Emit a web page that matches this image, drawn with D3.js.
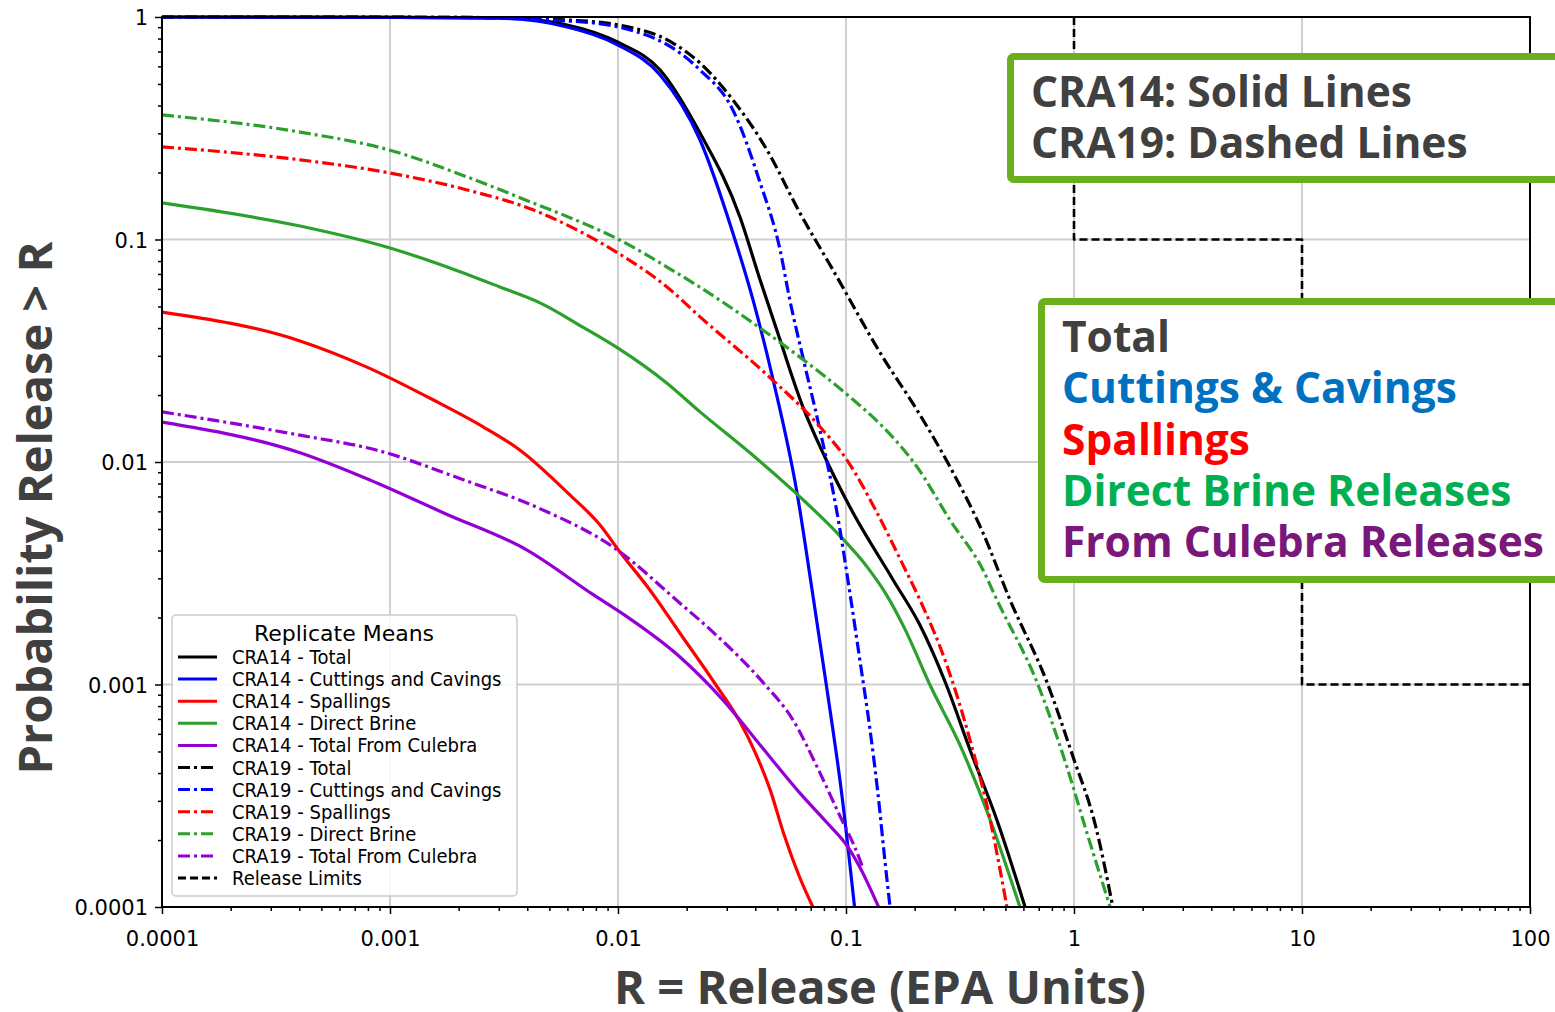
<!DOCTYPE html>
<html>
<head>
<meta charset="utf-8">
<script src="https://cdn.jsdelivr.net/npm/d3@7"></script>
<style>
  body { margin: 0; background: #fff; }
  svg { display: block; }
</style>
</head>
<body>
<script>
// CCDF of releases, CRA14 vs CRA19 replicate means
// each series is [R, P(release > R)]

var cra14Total = [[0.0001, 1], [0.0011, 0.997], [0.00303, 0.992], [0.00597, 0.921], [0.01, 0.77], [0.0153, 0.578],
  [0.0229, 0.301], [0.0343, 0.126], [0.042, 0.0658], [0.0514, 0.0353], [0.0647, 0.0177], [0.0792, 0.011],
  [0.104, 0.00628], [0.161, 0.00295], [0.211, 0.00185], [0.275, 0.001], [0.35, 0.000508], [0.459, 0.000246],
  [0.61, 0.0001]];
var cra14Cuttings = [[0.0001, 1], [0.0011, 0.996], [0.00303, 0.987], [0.00597, 0.902], [0.01, 0.748], [0.0153, 0.549],
  [0.0229, 0.28], [0.0319, 0.107], [0.0391, 0.0535], [0.0479, 0.0234], [0.061, 0.00726], [0.071, 0.00266],
  [0.0826, 0.000944], [0.0959, 0.000319], [0.109, 0.0001]];
var cra14Spallings = [[0.0001, 0.0472], [0.000403, 0.035], [0.000792, 0.0267], [0.00155, 0.019], [0.00256, 0.0144],
  [0.00372, 0.0113], [0.00615, 0.00711], [0.00834, 0.00521], [0.0102, 0.00394], [0.0138, 0.00266], [0.0187, 0.0017],
  [0.0268, 0.001], [0.0343, 0.000678], [0.0399, 0.000497], [0.0465, 0.000336], [0.0535, 0.000211], [0.0628, 0.000135],
  [0.0716, 0.0001]];
var cra14Brine = [[0.0001, 0.146], [0.000403, 0.115], [0.001, 0.0916], [0.00183, 0.0745], [0.00303, 0.0612],
  [0.00455, 0.0519], [0.00701, 0.0404], [0.01, 0.0325], [0.0164, 0.0226], [0.0229, 0.0168], [0.0379, 0.011],
  [0.0628, 0.00697], [0.0914, 0.0048], [0.124, 0.00337], [0.148, 0.0026], [0.182, 0.00176], [0.233, 0.001],
  [0.316, 0.000535], [0.429, 0.000246], [0.579, 0.0001]];
var cra14Culebra = [[0.0001, 0.0151], [0.000403, 0.011], [0.000816, 0.0083], [0.00176, 0.00584], [0.00399, 0.00402],
  [0.00785, 0.00252], [0.0107, 0.00205], [0.0187, 0.00133], [0.0289, 0.000851], [0.042, 0.000535], [0.0628, 0.000325],
  [0.0826, 0.000239], [0.102, 0.000186], [0.115, 0.000151], [0.139, 0.0001]];

var cra19Total = [[0.0001, 1], [0.00183, 0.997], [0.00597, 0.969], [0.01, 0.921], [0.0174, 0.764], [0.0229, 0.621],
  [0.0319, 0.424], [0.0451, 0.252], [0.0628, 0.1316], [0.0877, 0.0729], [0.145, 0.0296], [0.205, 0.0171],
  [0.286, 0.0095], [0.399, 0.0048], [0.524, 0.0024], [0.762, 0.00102], [0.991, 0.000472], [1.24, 0.000234],
  [1.48, 0.0001]];
var cra19Cuttings = [[0.0001, 1], [0.00183, 0.996], [0.00597, 0.96], [0.01, 0.902], [0.0187, 0.689], [0.0229, 0.578],
  [0.0319, 0.382], [0.042, 0.18], [0.0514, 0.0897], [0.0567, 0.0535], [0.0647, 0.0296], [0.0769, 0.0139],
  [0.0914, 0.0059], [0.104, 0.00258], [0.115, 0.00129], [0.127, 0.000644], [0.138, 0.000325], [0.148, 0.000163],
  [0.156, 0.0001]];
var cra19Spallings = [[0.0001, 0.261], [0.000403, 0.228], [0.001, 0.199], [0.00218, 0.167], [0.00424, 0.136],
  [0.00701, 0.107], [0.01, 0.0869], [0.0164, 0.0612], [0.0229, 0.0449], [0.0451, 0.0246], [0.0769, 0.0144],
  [0.101, 0.0102], [0.137, 0.0059], [0.178, 0.00344], [0.211, 0.0024], [0.277, 0.00122], [0.35, 0.000563],
  [0.429, 0.000246], [0.508, 0.0001]];
var cra19Brine = [[0.0001, 0.363], [0.000403, 0.304], [0.001, 0.252], [0.00218, 0.191], [0.00424, 0.146],
  [0.00701, 0.1186], [0.01, 0.1005], [0.0164, 0.0752], [0.0229, 0.061], [0.042, 0.04], [0.0628, 0.0296],
  [0.104, 0.0196], [0.145, 0.0144], [0.205, 0.0095], [0.286, 0.00548], [0.399, 0.00327], [0.459, 0.0024],
  [0.689, 0.00102], [0.931, 0.000426], [1.14, 0.000215], [1.44, 0.0001]];
var cra19Culebra = [[0.0001, 0.0168], [0.000403, 0.0132], [0.000877, 0.0113], [0.00211, 0.0083], [0.00437, 0.00628],
  [0.0098, 0.00406], [0.0187, 0.00232], [0.0261, 0.00172], [0.0433, 0.00102], [0.0586, 0.000692], [0.0747, 0.000426],
  [0.0914, 0.000273], [0.115, 0.000163], [0.119, 0.000148]];

var releaseLimits = [[1, 1], [1, 0.1], [10, 0.1], [10, 0.001], [100, 0.001]];

var xTickValues = [0.0001, 0.001, 0.01, 0.1, 1, 10, 100];
var xTickLabels = ["0.0001", "0.001", "0.01", "0.1", "1", "10", "100"];
var yTickValues = [0.0001, 0.001, 0.01, 0.1, 1];
var yTickLabels = ["0.0001", "0.001", "0.01", "0.1", "1"];

var noteLines = ["CRA14: Solid Lines", "CRA19: Dashed Lines"];
var componentNames = ["Total", "Cuttings & Cavings", "Spallings", "Direct Brine Releases", "From Culebra Releases"];
var componentColors = ["#404040", "#0070c0", "#ff0000", "#00b050", "#7a177a"];

var dashDot = "12,4,3,4";
var series = [
  {name: "CRA14 - Total", data: cra14Total, color: "#000000", dash: null},
  {name: "CRA14 - Cuttings and Cavings", data: cra14Cuttings, color: "#0000ff", dash: null},
  {name: "CRA14 - Spallings", data: cra14Spallings, color: "#ff0000", dash: null},
  {name: "CRA14 - Direct Brine", data: cra14Brine, color: "#2ca02c", dash: null},
  {name: "CRA14 - Total From Culebra", data: cra14Culebra, color: "#9400d3", dash: null},
  {name: "CRA19 - Total", data: cra19Total, color: "#000000", dash: dashDot},
  {name: "CRA19 - Cuttings and Cavings", data: cra19Cuttings, color: "#0000ff", dash: dashDot},
  {name: "CRA19 - Spallings", data: cra19Spallings, color: "#ff0000", dash: dashDot},
  {name: "CRA19 - Direct Brine", data: cra19Brine, color: "#2ca02c", dash: dashDot},
  {name: "CRA19 - Total From Culebra", data: cra19Culebra, color: "#9400d3", dash: dashDot},
  {name: "Release Limits", data: releaseLimits, color: "#000000", dash: "8,4", limit: true}
];

var svgWidth = 1555;
var svgHeight = 1012;
var margin = {top: 17, right: 25, bottom: 105, left: 162};
var width = svgWidth - margin.left - margin.right;
var height = svgHeight - margin.top - margin.bottom;

var svg = d3.select("body").append("svg").attr("width", svgWidth).attr("height", svgHeight);
var chartGroup = svg.append("g").attr("transform", `translate(${margin.left}, ${margin.top})`);

var x = d3.scaleLog().domain([0.0001, 100]).range([0, width]);
var y = d3.scaleLog().domain([0.0001, 1]).range([height, 0]);

// grid
chartGroup.append("g").selectAll("line").data(xTickValues).enter().append("line")
  .attr("x1", d => x(d)).attr("x2", d => x(d)).attr("y1", 0).attr("y2", height)
  .attr("stroke", "#cfcfcf").attr("stroke-width", 2);
chartGroup.append("g").selectAll("line").data(yTickValues).enter().append("line")
  .attr("y1", d => y(d)).attr("y2", d => y(d)).attr("x1", 0).attr("x2", width)
  .attr("stroke", "#cfcfcf").attr("stroke-width", 2);

chartGroup.append("clipPath").attr("id", "plotClip").append("rect")
  .attr("x", -2).attr("y", -2).attr("width", width + 4).attr("height", height + 4);

var line = d3.line().x(d => x(d[0])).y(d => y(d[1])).curve(d3.curveMonotoneX);
var stepLine = d3.line().x(d => x(d[0])).y(d => y(d[1]));

var lines = chartGroup.append("g").attr("clip-path", "url(#plotClip)");
series.forEach(function(s) {
  lines.append("path")
    .attr("d", s.limit ? stepLine(s.data) : line(s.data))
    .attr("fill", "none")
    .attr("stroke", s.color)
    .attr("stroke-width", s.limit ? 2.6 : 3.2)
    .attr("stroke-dasharray", s.dash)
    .attr("stroke-linejoin", "round");
});

// minor ticks
var xMinor = [];
var yMinor = [];
for (var e = -4; e < 2; e++) for (var m = 2; m < 10; m++) xMinor.push(m * Math.pow(10, e));
for (var e2 = -4; e2 < 0; e2++) for (var m2 = 2; m2 < 10; m2++) yMinor.push(m2 * Math.pow(10, e2));

chartGroup.append("g").attr("transform", `translate(0, ${height})`)
  .call(d3.axisBottom(x).tickValues(xMinor).tickSize(4).tickFormat(""))
  .call(g => g.select(".domain").remove());
chartGroup.append("g")
  .call(d3.axisLeft(y).tickValues(yMinor).tickSize(4).tickFormat(""))
  .call(g => g.select(".domain").remove());

var bottomAxis = d3.axisBottom(x).tickValues(xTickValues).tickSize(7).tickFormat((d, i) => xTickLabels[i]);
var leftAxis = d3.axisLeft(y).tickValues(yTickValues).tickSize(7).tickFormat((d, i) => yTickLabels[i]);

var xAxisG = chartGroup.append("g").attr("transform", `translate(0, ${height})`).call(bottomAxis);
xAxisG.selectAll("text").attr("y", 39).attr("dy", 0);
var yAxisG = chartGroup.append("g").call(leftAxis);
yAxisG.selectAll("text").attr("x", -14).attr("dy", "0.36em");

chartGroup.selectAll(".tick line").attr("stroke", "#000").attr("stroke-width", 1.5);
chartGroup.selectAll(".tick text").attr("font-family", "DejaVu Sans").attr("font-size", 21).attr("fill", "#000");
chartGroup.selectAll(".domain").remove();

// frame
chartGroup.append("rect").attr("width", width).attr("height", height)
  .attr("fill", "none").attr("stroke", "#000").attr("stroke-width", 2);

// legend
var legend = chartGroup.append("g").attr("transform", "translate(10, 598)");
legend.append("rect").attr("width", 345).attr("height", 281).attr("rx", 4)
  .attr("fill", "#fff").attr("fill-opacity", 0.85).attr("stroke", "#cccccc").attr("stroke-width", 1.5);
legend.append("text").attr("x", 172).attr("y", 26).attr("text-anchor", "middle")
  .attr("font-family", "DejaVu Sans").attr("font-size", 22).attr("fill", "#000").text("Replicate Means");
series.forEach(function(s, i) {
  var yy = 49 + i * 22.1;
  legend.append("line").attr("x1", 6).attr("x2", 45).attr("y1", yy - 7).attr("y2", yy - 7)
    .attr("stroke", s.color).attr("stroke-width", 3).attr("stroke-dasharray", s.dash);
  legend.append("text").attr("transform", `translate(60, ${yy}) scale(0.9, 1)`)
    .attr("font-family", "DejaVu Sans").attr("font-size", 20).attr("fill", "#000").text(s.name);
});

// axis titles
svg.append("text").attr("x", 880).attr("y", 1004).attr("text-anchor", "middle")
  .attr("font-family", "Open Sans").attr("font-weight", "bold").attr("font-size", 47).attr("fill", "#404040")
  .text("R = Release (EPA Units)");
svg.append("text").attr("transform", "translate(52, 508) rotate(-90)").attr("text-anchor", "middle")
  .attr("font-family", "Open Sans").attr("font-weight", "bold").attr("font-size", 47).attr("fill", "#404040")
  .text("Probability Release > R");

// annotation boxes
var boxGreen = "#6aaf1d";
svg.append("rect").attr("x", 1010.5).attr("y", 56.5).attr("width", 600).attr("height", 123).attr("rx", 3)
  .attr("fill", "#fff").attr("stroke", boxGreen).attr("stroke-width", 7);
svg.selectAll(".note").data(noteLines).enter().append("text")
  .attr("x", 1031).attr("y", (d, i) => 107 + i * 51)
  .attr("font-family", "Open Sans").attr("font-weight", "bold").attr("font-size", 42.5).attr("fill", "#404040")
  .text(d => d);

svg.append("rect").attr("x", 1041.5).attr("y", 301.5).attr("width", 600).attr("height", 278).attr("rx", 3)
  .attr("fill", "#fff").attr("stroke", boxGreen).attr("stroke-width", 7);
svg.selectAll(".comp").data(componentNames).enter().append("text")
  .attr("x", 1062).attr("y", (d, i) => 352 + i * 51.3)
  .attr("font-family", "Open Sans").attr("font-weight", "bold").attr("font-size", 42.5)
  .attr("fill", (d, i) => componentColors[i])
  .text(d => d);
</script>
</body>
</html>
